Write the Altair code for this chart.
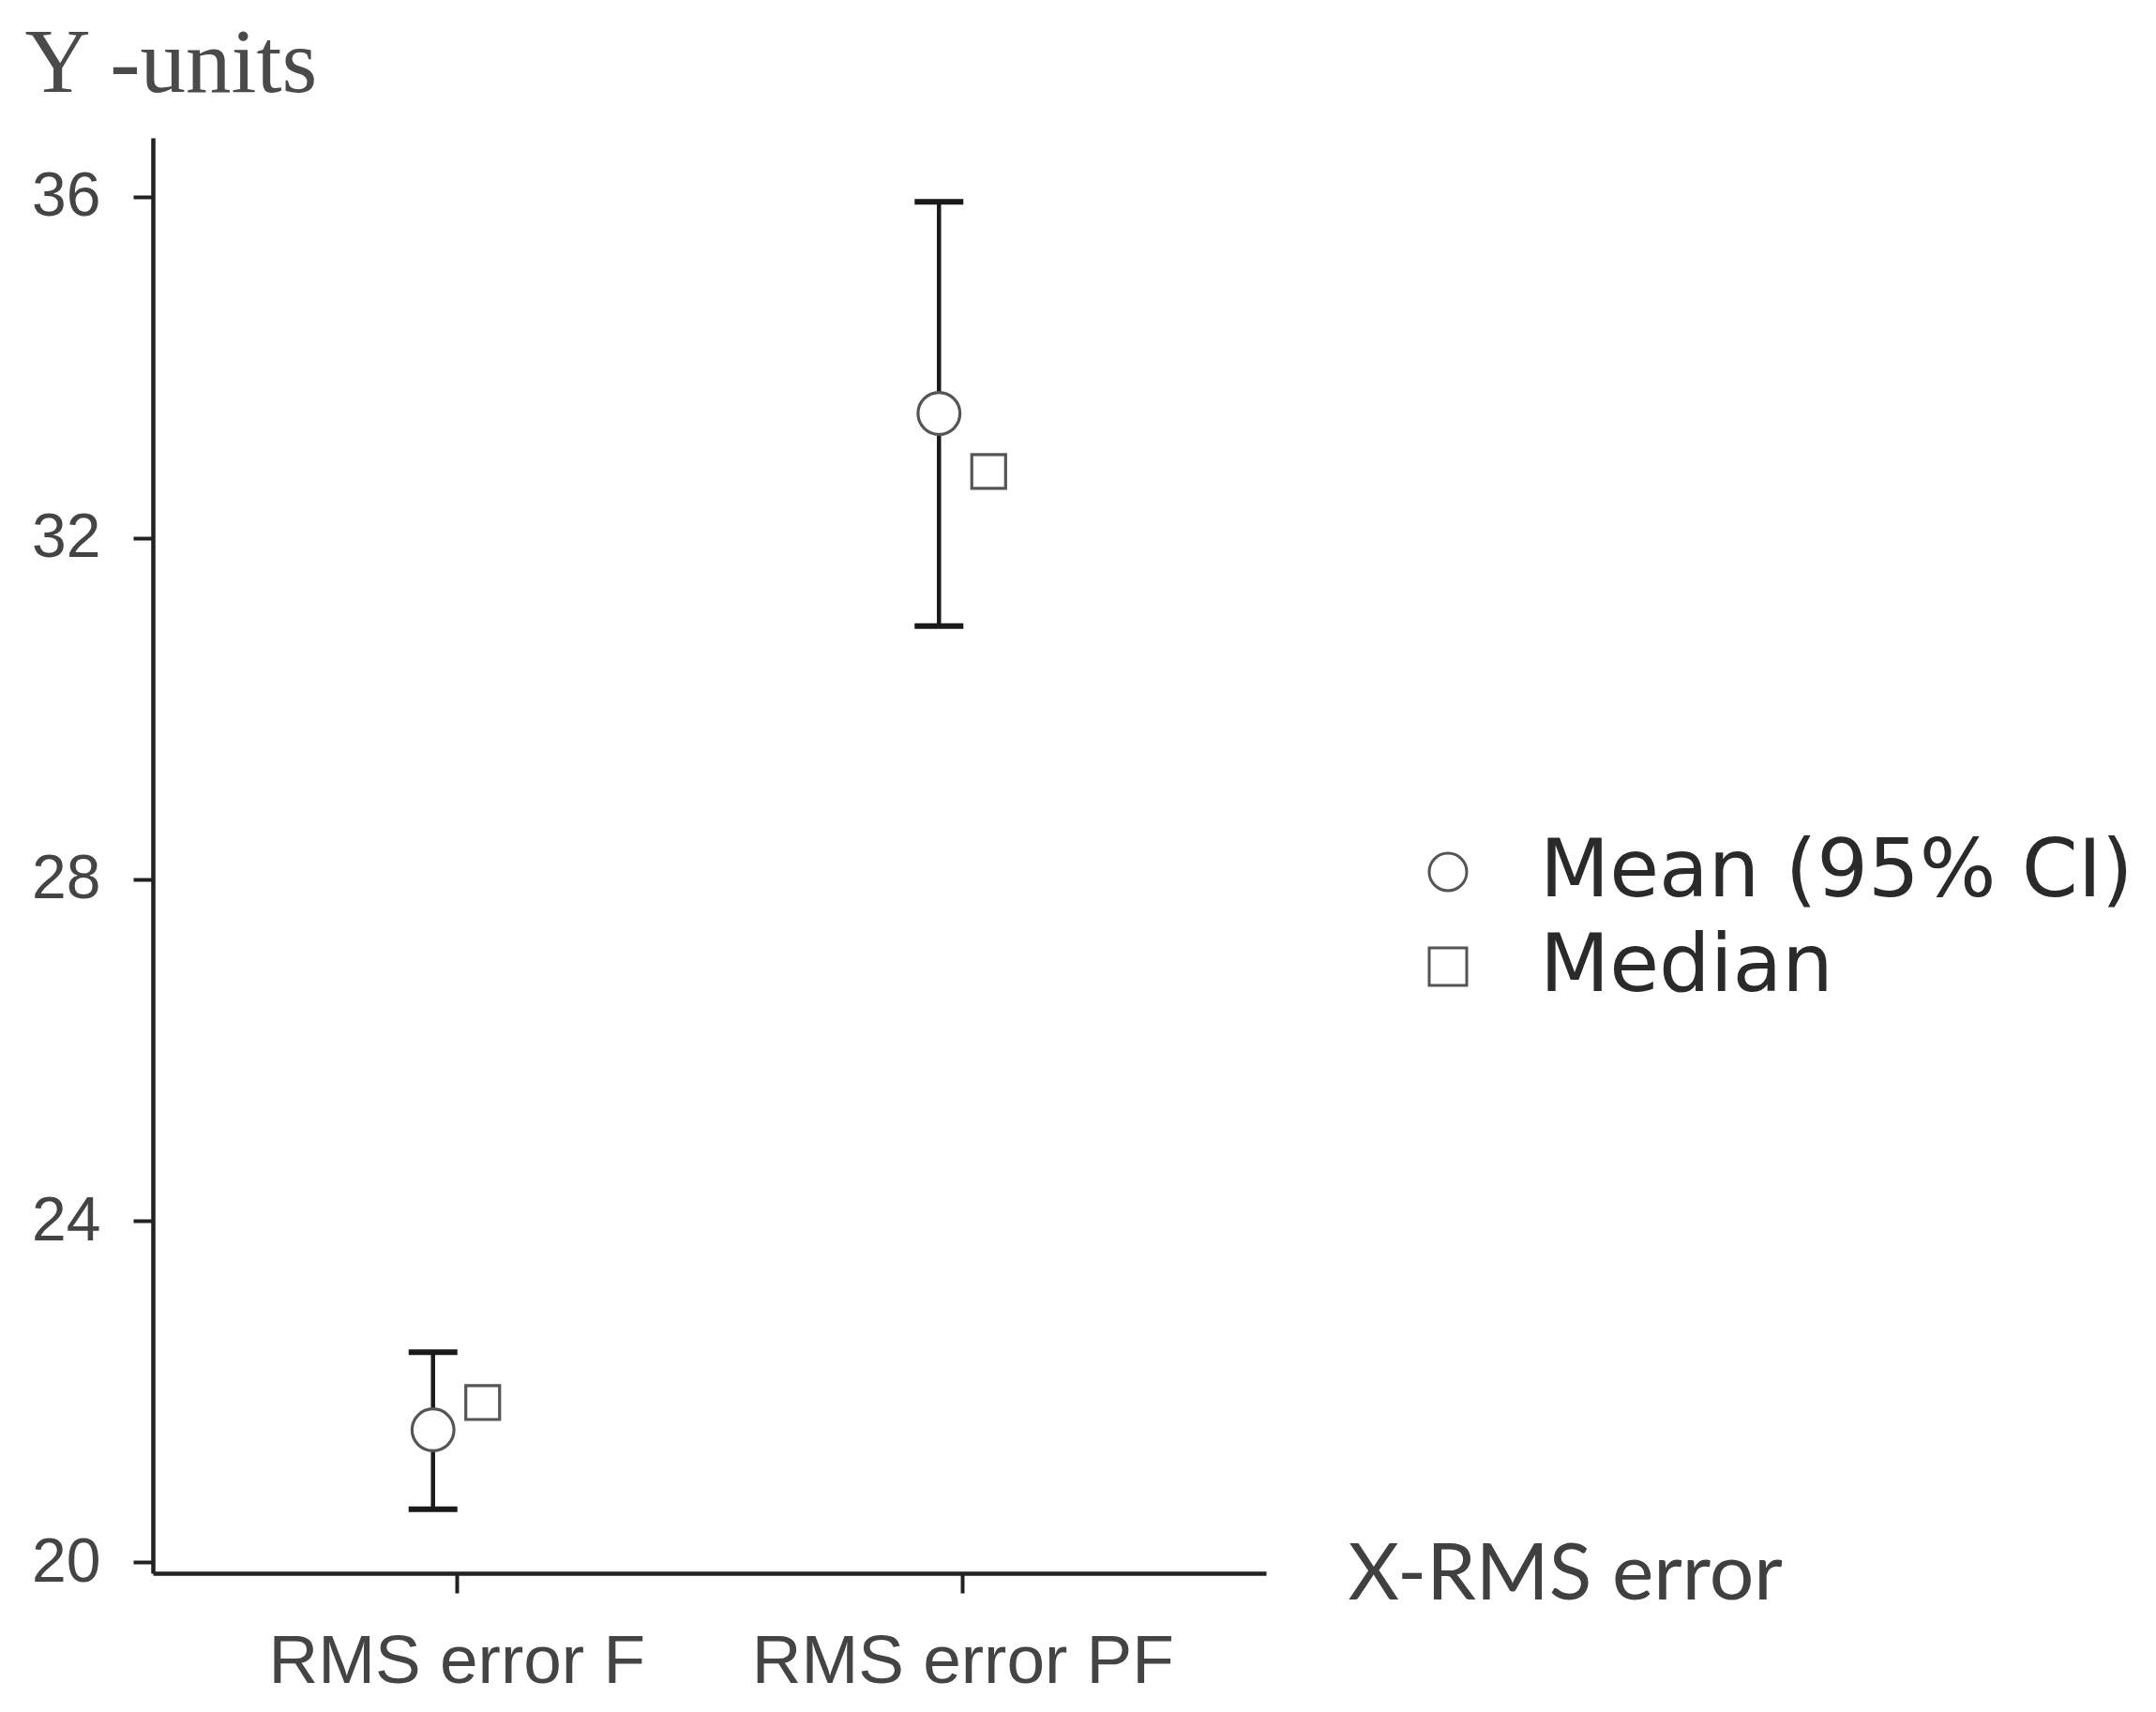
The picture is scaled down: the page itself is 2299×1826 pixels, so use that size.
import altair as alt
import pandas as pd

categories = ["RMS error F", "RMS error PF"]
means = [21.55, 33.46]
medians = [21.87, 32.78]
ci_lower = [20.62, 30.97]
ci_upper = [22.46, 35.94]
stat_names = ["Mean (95% CI)", "Median"]
y_ticks = [20, 24, 28, 32, 36]

mean_df = pd.DataFrame({"cat": categories, "value": means, "lo": ci_lower,
                        "hi": ci_upper, "stat": stat_names[0]})
med_df = pd.DataFrame({"cat": categories, "value": medians, "stat": stat_names[1]})
legend_df = pd.DataFrame({"stat": stat_names})

W, H = 1187, 1531

x_enc = alt.X("cat:N", sort=categories,
              scale=alt.Scale(type="point", padding=0.6),
              axis=alt.Axis(title="X-RMS error", titleAngle=0, titleAlign="left",
                            titleBaseline="alphabetic", titleX=1274, titleY=27,
                            titleFont="Lato", titleFontSize=84, titleFontWeight="normal",
                            titleColor="#404040", labelAngle=0, labelFontSize=73,
                            labelPadding=37, labelBaseline="top", labelLimit=2000))
y_scale = alt.Scale(domain=[19.87, 36.69], nice=False, zero=False)
y_axis = alt.Axis(title="Y -units", values=y_ticks, titleAngle=0, titleAlign="left",
                  titleBaseline="alphabetic", titleX=-137, titleY=-50,
                  titleFont="Liberation Serif", titleFontSize=97, titleFontWeight="normal",
                  titleColor="#4a4a4a", labelFontSize=66, labelPadding=35, labelLimit=2000)

shape_scale = alt.Scale(domain=stat_names, range=["circle", "square"])

rules = alt.Chart(mean_df).mark_rule(color="#1a1a1a", strokeWidth=4.5, xOffset=-25).encode(
    x=x_enc, y=alt.Y("lo:Q", scale=y_scale, axis=y_axis), y2="hi:Q")
cap_lo = alt.Chart(mean_df).mark_tick(color="#1a1a1a", size=52, thickness=6, opacity=1,
                                      xOffset=-25).encode(
    x=x_enc, y=alt.Y("lo:Q", scale=y_scale, axis=y_axis))
cap_hi = alt.Chart(mean_df).mark_tick(color="#1a1a1a", size=52, thickness=6, opacity=1,
                                      xOffset=-25).encode(
    x=x_enc, y=alt.Y("hi:Q", scale=y_scale, axis=y_axis))

mean_pts = alt.Chart(mean_df).mark_point(filled=False, fill="white", stroke="#555555",
                                         strokeWidth=3.2, size=2000, opacity=1,
                                         xOffset=-25).encode(
    x=x_enc, y=alt.Y("value:Q", scale=y_scale, axis=y_axis),
    shape=alt.Shape("stat:N", scale=shape_scale, legend=None))
med_pts = alt.Chart(med_df).mark_point(filled=False, fill="white", stroke="#555555",
                                       strokeWidth=3.2, size=1300, opacity=1,
                                       xOffset=28).encode(
    x=x_enc, y=alt.Y("value:Q", scale=y_scale, axis=y_axis),
    shape=alt.Shape("stat:N", scale=shape_scale, legend=None))

main = alt.layer(rules, cap_lo, cap_hi, mean_pts, med_pts)

# legend drawn as its own small layer (symbol column + label column)
leg_y = alt.Y("stat:N", sort=stat_names,
              scale=alt.Scale(type="point", domain=stat_names, range=[783, 884], padding=0),
              axis=None)
leg_sym = alt.Chart(legend_df).mark_point(filled=False, fill="white", stroke="#555555",
                                          strokeWidth=3, size=1600, opacity=1).encode(
    x=alt.value(1381), y=leg_y,
    shape=alt.Shape("stat:N", scale=shape_scale, legend=None))
leg_txt = alt.Chart(legend_df).mark_text(align="left", baseline="middle", font="DejaVu Sans",
                                         fontSize=86, color="#2a2a2a").encode(
    x=alt.value(1479), y=leg_y, text="stat:N")
leg = alt.layer(leg_sym, leg_txt)

chart = alt.layer(main, leg).resolve_scale(y="independent").properties(
    width=W, height=H,
    autosize=alt.AutoSizeParams(type="none"),
    padding={"left": 155, "top": 139, "right": 940, "bottom": 140},
    background="white",
).configure_view(stroke=None).configure_axis(
    grid=False, domainColor="#222222", domainWidth=4.5, tickColor="#222222",
    tickWidth=4, tickSize=21, labelColor="#444444", labelFont="Liberation Sans",
)

chart.save("out.html", embed_options={"renderer": "svg", "actions": False})
